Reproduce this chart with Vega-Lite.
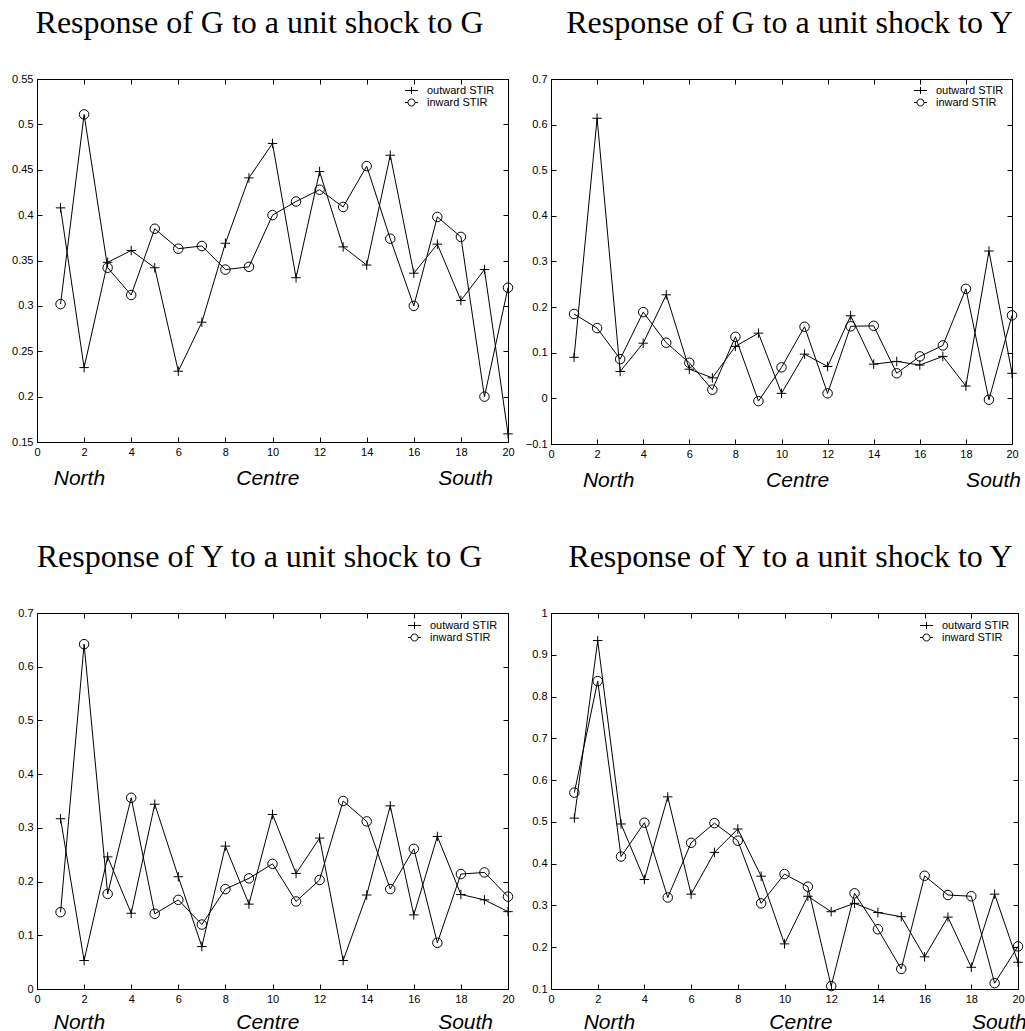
{
  "$schema": "https://vega.github.io/schema/vega-lite/v6.json",
  "padding": {"left": 11, "top": 6, "right": 0, "bottom": 0},
  "background": "white",
  "columns": 2,
  "spacing": {"row": 169, "column": 43},
  "bounds": "flush",
  "resolve": {"scale": {"shape": "independent"}, "legend": {"shape": "independent"}},
  "config": {
    "font": "Liberation Sans",
    "view": {"stroke": "black", "strokeWidth": 1},
    "axis": {"grid": false, "domainColor": "black", "domainWidth": 1, "tickColor": "black", "tickWidth": 1, "tickSize": -5, "labelColor": "black", "labelFont": "Liberation Sans", "labelFontSize": 11, "labelPadding": 9, "labelFlush": false, "labelOverlap": false, "format": "~g"},
    "title": {"font": "Liberation Serif", "fontSize": 32, "fontWeight": "normal", "color": "black", "offset": 33, "baseline": "alphabetic", "anchor": "middle"},
    "legend": {"labelFont": "Liberation Sans", "labelFontSize": 11, "labelColor": "black", "symbolSize": 100, "labelOffset": 10, "rowPadding": 0, "padding": 0, "symbolOpacity": 1, "symbolStrokeColor": "black", "symbolFillColor": "transparent", "symbolStrokeWidth": 1}
  },
  "concat": [
    {
      "title": {"text": "Response of G to a unit shock to G", "dx": -13},
      "width": 471, "height": 363,
      "data": {"values": [
        {"h": 1, "outward STIR": 0.408, "inward STIR": 0.302},
        {"h": 2, "outward STIR": 0.232, "inward STIR": 0.511},
        {"h": 3, "outward STIR": 0.348, "inward STIR": 0.342},
        {"h": 4, "outward STIR": 0.361, "inward STIR": 0.312},
        {"h": 5, "outward STIR": 0.342, "inward STIR": 0.385},
        {"h": 6, "outward STIR": 0.228, "inward STIR": 0.363},
        {"h": 7, "outward STIR": 0.282, "inward STIR": 0.366},
        {"h": 8, "outward STIR": 0.369, "inward STIR": 0.340},
        {"h": 9, "outward STIR": 0.441, "inward STIR": 0.343},
        {"h": 10, "outward STIR": 0.479, "inward STIR": 0.400},
        {"h": 11, "outward STIR": 0.331, "inward STIR": 0.415},
        {"h": 12, "outward STIR": 0.448, "inward STIR": 0.428},
        {"h": 13, "outward STIR": 0.365, "inward STIR": 0.409},
        {"h": 14, "outward STIR": 0.345, "inward STIR": 0.454},
        {"h": 15, "outward STIR": 0.466, "inward STIR": 0.374},
        {"h": 16, "outward STIR": 0.336, "inward STIR": 0.300},
        {"h": 17, "outward STIR": 0.368, "inward STIR": 0.398},
        {"h": 18, "outward STIR": 0.306, "inward STIR": 0.376},
        {"h": 19, "outward STIR": 0.340, "inward STIR": 0.200},
        {"h": 20, "outward STIR": 0.159, "inward STIR": 0.320}
      ]},
      "transform": [{"fold": ["outward STIR", "inward STIR"], "as": ["series", "v"]}],
      "layer": [
        {"mark": {"type": "line", "color": "black", "strokeWidth": 1},
         "encoding": {
           "x": {"field": "h", "type": "quantitative", "title": null, "scale": {"domain": [0, 20], "nice": false}, "axis": {"orient": "bottom", "values": [0, 2, 4, 6, 8, 10, 12, 14, 16, 18, 20]}},
           "y": {"field": "v", "type": "quantitative", "title": null, "scale": {"domain": [0.15, 0.55], "nice": false, "zero": false}, "axis": {"orient": "left", "values": [0.15, 0.2, 0.25, 0.3, 0.35, 0.4, 0.45, 0.5, 0.55]}},
           "detail": {"field": "series"}}},
        {"mark": {"type": "point", "filled": false, "color": "black", "strokeWidth": 1, "size": 90, "opacity": 1},
         "encoding": {
           "x": {"field": "h", "type": "quantitative", "title": null, "axis": {"orient": "top", "labels": false, "values": [0, 2, 4, 6, 8, 10, 12, 14, 16, 18, 20]}},
           "y": {"field": "v", "type": "quantitative", "title": null, "axis": {"orient": "right", "labels": false, "values": [0.15, 0.2, 0.25, 0.3, 0.35, 0.4, 0.45, 0.5, 0.55]}},
           "shape": {"field": "series", "type": "nominal", "scale": {"domain": ["outward STIR", "inward STIR"], "range": ["M-1,0H1M0,-1V1", "circle"]}, "legend": null}}},
        {"mark": {"type": "point", "filled": false, "color": "black", "strokeWidth": 1, "size": 100, "opacity": 0},
         "encoding": {
           "x": {"field": "h", "type": "quantitative", "axis": null},
           "y": {"field": "v", "type": "quantitative", "axis": null},
           "shape": {"field": "series", "type": "nominal", "scale": {"domain": ["outward STIR", "inward STIR"], "range": ["M-1.3,0H1.3M0,-0.7V0.7", "M-1.3,0H-0.7M0.7,0H1.3M-0.7,0A0.7,0.7,0,1,0,0.7,0A0.7,0.7,0,1,0,-0.7,0"]},
             "legend": {"title": null, "orient": "none", "legendX": 369, "legendY": 6}}}},
        {"data": {"values": [{"label": "North", "pos": 1.8}, {"label": "Centre", "pos": 9.8}, {"label": "South", "pos": 18.2}]},
         "mark": {"type": "text", "y": "height", "dy": 43, "baseline": "alphabetic", "align": "center", "font": "Liberation Sans", "fontStyle": "italic", "fontSize": 21, "color": "black"},
         "encoding": {"x": {"field": "pos", "type": "quantitative", "axis": null}, "text": {"field": "label"}}}
      ],
      "resolve": {"axis": {"x": "independent", "y": "independent"}, "scale": {"shape": "independent"}}
    },
    {
      "title": {"text": "Response of G to a unit shock to Y", "dx": 8},
      "width": 461, "height": 365,
      "data": {"values": [
        {"h": 1, "outward STIR": 0.090, "inward STIR": 0.185},
        {"h": 2, "outward STIR": 0.614, "inward STIR": 0.154},
        {"h": 3, "outward STIR": 0.059, "inward STIR": 0.086},
        {"h": 4, "outward STIR": 0.121, "inward STIR": 0.189},
        {"h": 5, "outward STIR": 0.227, "inward STIR": 0.122},
        {"h": 6, "outward STIR": 0.064, "inward STIR": 0.078},
        {"h": 7, "outward STIR": 0.045, "inward STIR": 0.019},
        {"h": 8, "outward STIR": 0.114, "inward STIR": 0.135},
        {"h": 9, "outward STIR": 0.143, "inward STIR": -0.006},
        {"h": 10, "outward STIR": 0.011, "inward STIR": 0.068},
        {"h": 11, "outward STIR": 0.097, "inward STIR": 0.157},
        {"h": 12, "outward STIR": 0.070, "inward STIR": 0.011},
        {"h": 13, "outward STIR": 0.181, "inward STIR": 0.158},
        {"h": 14, "outward STIR": 0.075, "inward STIR": 0.159},
        {"h": 15, "outward STIR": 0.081, "inward STIR": 0.055},
        {"h": 16, "outward STIR": 0.073, "inward STIR": 0.092},
        {"h": 17, "outward STIR": 0.092, "inward STIR": 0.116},
        {"h": 18, "outward STIR": 0.027, "inward STIR": 0.240},
        {"h": 19, "outward STIR": 0.323, "inward STIR": -0.003},
        {"h": 20, "outward STIR": 0.055, "inward STIR": 0.182}
      ]},
      "transform": [{"fold": ["outward STIR", "inward STIR"], "as": ["series", "v"]}],
      "layer": [
        {"mark": {"type": "line", "color": "black", "strokeWidth": 1},
         "encoding": {
           "x": {"field": "h", "type": "quantitative", "title": null, "scale": {"domain": [0, 20], "nice": false}, "axis": {"orient": "bottom", "values": [0, 2, 4, 6, 8, 10, 12, 14, 16, 18, 20]}},
           "y": {"field": "v", "type": "quantitative", "title": null, "scale": {"domain": [-0.1, 0.7], "nice": false, "zero": false}, "axis": {"orient": "left", "values": [-0.1, 0, 0.1, 0.2, 0.3, 0.4, 0.5, 0.6, 0.7]}},
           "detail": {"field": "series"}}},
        {"mark": {"type": "point", "filled": false, "color": "black", "strokeWidth": 1, "size": 90, "opacity": 1},
         "encoding": {
           "x": {"field": "h", "type": "quantitative", "title": null, "axis": {"orient": "top", "labels": false, "values": [0, 2, 4, 6, 8, 10, 12, 14, 16, 18, 20]}},
           "y": {"field": "v", "type": "quantitative", "title": null, "axis": {"orient": "right", "labels": false, "values": [-0.1, 0, 0.1, 0.2, 0.3, 0.4, 0.5, 0.6, 0.7]}},
           "shape": {"field": "series", "type": "nominal", "scale": {"domain": ["outward STIR", "inward STIR"], "range": ["M-1,0H1M0,-1V1", "circle"]}, "legend": null}}},
        {"mark": {"type": "point", "filled": false, "color": "black", "strokeWidth": 1, "size": 100, "opacity": 0},
         "encoding": {
           "x": {"field": "h", "type": "quantitative", "axis": null},
           "y": {"field": "v", "type": "quantitative", "axis": null},
           "shape": {"field": "series", "type": "nominal", "scale": {"domain": ["outward STIR", "inward STIR"], "range": ["M-1.3,0H1.3M0,-0.7V0.7", "M-1.3,0H-0.7M0.7,0H1.3M-0.7,0A0.7,0.7,0,1,0,0.7,0A0.7,0.7,0,1,0,-0.7,0"]},
             "legend": {"title": null, "orient": "none", "legendX": 364, "legendY": 6}}}},
        {"data": {"values": [{"label": "North", "pos": 2.5}, {"label": "Centre", "pos": 10.7}, {"label": "South", "pos": 19.2}]},
         "mark": {"type": "text", "y": "height", "dy": 43, "baseline": "alphabetic", "align": "center", "font": "Liberation Sans", "fontStyle": "italic", "fontSize": 21, "color": "black"},
         "encoding": {"x": {"field": "pos", "type": "quantitative", "axis": null}, "text": {"field": "label"}}}
      ],
      "resolve": {"axis": {"x": "independent", "y": "independent"}, "scale": {"shape": "independent"}}
    },
    {
      "title": {"text": "Response of Y to a unit shock to G", "dx": -13},
      "width": 471, "height": 376,
      "data": {"values": [
        {"h": 1, "outward STIR": 0.317, "inward STIR": 0.143},
        {"h": 2, "outward STIR": 0.053, "inward STIR": 0.642},
        {"h": 3, "outward STIR": 0.246, "inward STIR": 0.177},
        {"h": 4, "outward STIR": 0.141, "inward STIR": 0.356},
        {"h": 5, "outward STIR": 0.344, "inward STIR": 0.140},
        {"h": 6, "outward STIR": 0.209, "inward STIR": 0.166},
        {"h": 7, "outward STIR": 0.079, "inward STIR": 0.120},
        {"h": 8, "outward STIR": 0.266, "inward STIR": 0.186},
        {"h": 9, "outward STIR": 0.158, "inward STIR": 0.206},
        {"h": 10, "outward STIR": 0.325, "inward STIR": 0.233},
        {"h": 11, "outward STIR": 0.215, "inward STIR": 0.163},
        {"h": 12, "outward STIR": 0.281, "inward STIR": 0.203},
        {"h": 13, "outward STIR": 0.053, "inward STIR": 0.350},
        {"h": 14, "outward STIR": 0.175, "inward STIR": 0.312},
        {"h": 15, "outward STIR": 0.341, "inward STIR": 0.186},
        {"h": 16, "outward STIR": 0.138, "inward STIR": 0.261},
        {"h": 17, "outward STIR": 0.284, "inward STIR": 0.086},
        {"h": 18, "outward STIR": 0.176, "inward STIR": 0.214},
        {"h": 19, "outward STIR": 0.166, "inward STIR": 0.217},
        {"h": 20, "outward STIR": 0.144, "inward STIR": 0.172}
      ]},
      "transform": [{"fold": ["outward STIR", "inward STIR"], "as": ["series", "v"]}],
      "layer": [
        {"mark": {"type": "line", "color": "black", "strokeWidth": 1},
         "encoding": {
           "x": {"field": "h", "type": "quantitative", "title": null, "scale": {"domain": [0, 20], "nice": false}, "axis": {"orient": "bottom", "values": [0, 2, 4, 6, 8, 10, 12, 14, 16, 18, 20]}},
           "y": {"field": "v", "type": "quantitative", "title": null, "scale": {"domain": [0, 0.7], "nice": false, "zero": false}, "axis": {"orient": "left", "values": [0, 0.1, 0.2, 0.3, 0.4, 0.5, 0.6, 0.7]}},
           "detail": {"field": "series"}}},
        {"mark": {"type": "point", "filled": false, "color": "black", "strokeWidth": 1, "size": 90, "opacity": 1},
         "encoding": {
           "x": {"field": "h", "type": "quantitative", "title": null, "axis": {"orient": "top", "labels": false, "values": [0, 2, 4, 6, 8, 10, 12, 14, 16, 18, 20]}},
           "y": {"field": "v", "type": "quantitative", "title": null, "axis": {"orient": "right", "labels": false, "values": [0, 0.1, 0.2, 0.3, 0.4, 0.5, 0.6, 0.7]}},
           "shape": {"field": "series", "type": "nominal", "scale": {"domain": ["outward STIR", "inward STIR"], "range": ["M-1,0H1M0,-1V1", "circle"]}, "legend": null}}},
        {"mark": {"type": "point", "filled": false, "color": "black", "strokeWidth": 1, "size": 100, "opacity": 0},
         "encoding": {
           "x": {"field": "h", "type": "quantitative", "axis": null},
           "y": {"field": "v", "type": "quantitative", "axis": null},
           "shape": {"field": "series", "type": "nominal", "scale": {"domain": ["outward STIR", "inward STIR"], "range": ["M-1.3,0H1.3M0,-0.7V0.7", "M-1.3,0H-0.7M0.7,0H1.3M-0.7,0A0.7,0.7,0,1,0,0.7,0A0.7,0.7,0,1,0,-0.7,0"]},
             "legend": {"title": null, "orient": "none", "legendX": 372, "legendY": 7}}}},
        {"data": {"values": [{"label": "North", "pos": 1.8}, {"label": "Centre", "pos": 9.8}, {"label": "South", "pos": 18.2}]},
         "mark": {"type": "text", "y": "height", "dy": 40, "baseline": "alphabetic", "align": "center", "font": "Liberation Sans", "fontStyle": "italic", "fontSize": 21, "color": "black"},
         "encoding": {"x": {"field": "pos", "type": "quantitative", "axis": null}, "text": {"field": "label"}}}
      ],
      "resolve": {"axis": {"x": "independent", "y": "independent"}, "scale": {"shape": "independent"}}
    },
    {
      "title": {"text": "Response of Y to a unit shock to Y", "dx": 6},
      "width": 467, "height": 376,
      "data": {"values": [
        {"h": 1, "outward STIR": 0.509, "inward STIR": 0.570},
        {"h": 2, "outward STIR": 0.934, "inward STIR": 0.837},
        {"h": 3, "outward STIR": 0.495, "inward STIR": 0.417},
        {"h": 4, "outward STIR": 0.362, "inward STIR": 0.498},
        {"h": 5, "outward STIR": 0.560, "inward STIR": 0.319},
        {"h": 6, "outward STIR": 0.327, "inward STIR": 0.450},
        {"h": 7, "outward STIR": 0.427, "inward STIR": 0.497},
        {"h": 8, "outward STIR": 0.483, "inward STIR": 0.455},
        {"h": 9, "outward STIR": 0.370, "inward STIR": 0.305},
        {"h": 10, "outward STIR": 0.208, "inward STIR": 0.375},
        {"h": 11, "outward STIR": 0.322, "inward STIR": 0.345},
        {"h": 12, "outward STIR": 0.285, "inward STIR": 0.107},
        {"h": 13, "outward STIR": 0.305, "inward STIR": 0.329},
        {"h": 14, "outward STIR": 0.283, "inward STIR": 0.243},
        {"h": 15, "outward STIR": 0.273, "inward STIR": 0.148},
        {"h": 16, "outward STIR": 0.177, "inward STIR": 0.371},
        {"h": 17, "outward STIR": 0.272, "inward STIR": 0.325},
        {"h": 18, "outward STIR": 0.152, "inward STIR": 0.322},
        {"h": 19, "outward STIR": 0.327, "inward STIR": 0.114},
        {"h": 20, "outward STIR": 0.164, "inward STIR": 0.202}
      ]},
      "transform": [{"fold": ["outward STIR", "inward STIR"], "as": ["series", "v"]}],
      "layer": [
        {"mark": {"type": "line", "color": "black", "strokeWidth": 1},
         "encoding": {
           "x": {"field": "h", "type": "quantitative", "title": null, "scale": {"domain": [0, 20], "nice": false}, "axis": {"orient": "bottom", "values": [0, 2, 4, 6, 8, 10, 12, 14, 16, 18, 20]}},
           "y": {"field": "v", "type": "quantitative", "title": null, "scale": {"domain": [0.1, 1], "nice": false, "zero": false}, "axis": {"orient": "left", "values": [0.1, 0.2, 0.3, 0.4, 0.5, 0.6, 0.7, 0.8, 0.9, 1]}},
           "detail": {"field": "series"}}},
        {"mark": {"type": "point", "filled": false, "color": "black", "strokeWidth": 1, "size": 90, "opacity": 1},
         "encoding": {
           "x": {"field": "h", "type": "quantitative", "title": null, "axis": {"orient": "top", "labels": false, "values": [0, 2, 4, 6, 8, 10, 12, 14, 16, 18, 20]}},
           "y": {"field": "v", "type": "quantitative", "title": null, "axis": {"orient": "right", "labels": false, "values": [0.1, 0.2, 0.3, 0.4, 0.5, 0.6, 0.7, 0.8, 0.9, 1]}},
           "shape": {"field": "series", "type": "nominal", "scale": {"domain": ["outward STIR", "inward STIR"], "range": ["M-1,0H1M0,-1V1", "circle"]}, "legend": null}}},
        {"mark": {"type": "point", "filled": false, "color": "black", "strokeWidth": 1, "size": 100, "opacity": 0},
         "encoding": {
           "x": {"field": "h", "type": "quantitative", "axis": null},
           "y": {"field": "v", "type": "quantitative", "axis": null},
           "shape": {"field": "series", "type": "nominal", "scale": {"domain": ["outward STIR", "inward STIR"], "range": ["M-1.3,0H1.3M0,-0.7V0.7", "M-1.3,0H-0.7M0.7,0H1.3M-0.7,0A0.7,0.7,0,1,0,0.7,0A0.7,0.7,0,1,0,-0.7,0"]},
             "legend": {"title": null, "orient": "none", "legendX": 370, "legendY": 7}}}},
        {"data": {"values": [{"label": "North", "pos": 2.5}, {"label": "Centre", "pos": 10.7}, {"label": "South", "pos": 19.2}]},
         "mark": {"type": "text", "y": "height", "dy": 40, "baseline": "alphabetic", "align": "center", "font": "Liberation Sans", "fontStyle": "italic", "fontSize": 21, "color": "black"},
         "encoding": {"x": {"field": "pos", "type": "quantitative", "axis": null}, "text": {"field": "label"}}}
      ],
      "resolve": {"axis": {"x": "independent", "y": "independent"}, "scale": {"shape": "independent"}}
    }
  ]
}
